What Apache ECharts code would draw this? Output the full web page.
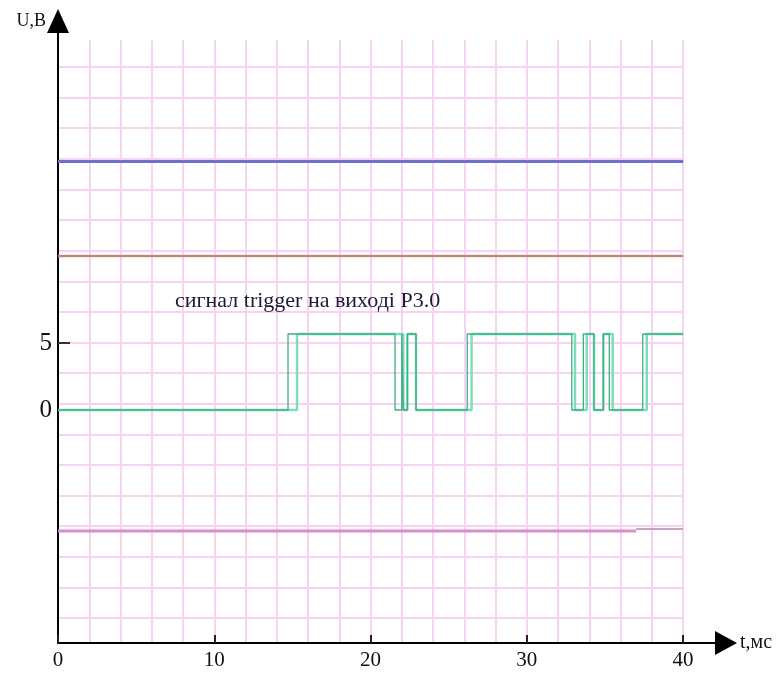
<!DOCTYPE html>
<html>
<head>
<meta charset="utf-8">
<script src="https://cdn.jsdelivr.net/npm/echarts@6/dist/echarts.min.js"></script>
<style>
html,body{margin:0;padding:0;background:#fff;}
#c{width:781px;height:675px;}
</style>
</head>
<body>
<div id="c"></div>
<script>
// ---- data ----
const xTickLabels = [0, 10, 20, 30, 40];
const yTickLabels = [0, 5];
const blueLevel = 18.55;
const orangeLevel = 11.49;
const pinkLevel = -9.03;
const pinkEndLevel = -8.88;
const pinkBreakT = 37.0;
const tStart = 0;
const tEnd = 40;
const signalLow = 0;
const signalHigh = 5.67;
// switching moments (ms) of the trigger signal, drawn twice (two overlaid traces)
const edgesA = [14.72, 21.57, 22.00, 22.10, 22.36, 22.91, 26.19, 32.88, 33.62, 34.30, 34.90, 35.28, 37.42];
const edgesB = [15.30, 22.10, 22.36, 22.91, 26.47, 33.09, 33.84, 34.30, 34.90, 35.50, 37.68];
const annotation = 'сигнал trigger на виході Р3.0';

function stepPath(edges) {
  const pts = [[tStart, signalLow]];
  let level = signalLow;
  edges.forEach(function (t) {
    pts.push([t, level]);
    level = (level === signalLow) ? signalHigh : signalLow;
    pts.push([t, level]);
  });
  pts.push([tEnd, level]);
  return pts;
}

const serif = 'Liberation Serif';
const gridColor = '#f6d3f3';

const chart = echarts.init(document.getElementById('c'), null, {renderer: 'canvas'});
chart.setOption({
  animation: false,
  backgroundColor: '#ffffff',
  title: {
    text: annotation,
    left: 170, top: 285,
    textStyle: {fontFamily: serif, fontSize: 22, fontWeight: 'normal', color: '#1b1b33'}
  },
  grid: [
    {left: 58, right: 55, top: 21, bottom: 32, containLabel: false},   // data + axes
    {left: 58, right: 98, top: 40, bottom: 32, containLabel: false},   // vertical grid lines
    {left: 58, right: 98, top: 67, bottom: 57, containLabel: false}    // horizontal grid lines
  ],
  xAxis: [
    {
      type: 'value', gridIndex: 0, min: 0, max: 42.75,
      axisLine: {show: true, onZero: false, symbol: ['none', 'triangle'], symbolSize: [24, 22],
        lineStyle: {color: '#000', width: 2}},
      axisTick: {show: true, inside: true, length: 8, customValues: xTickLabels, lineStyle: {color: '#222', width: 2}},
      axisLabel: {show: true, customValues: xTickLabels, fontFamily: serif, fontSize: 21, color: '#111', margin: 7},
      splitLine: {show: false},
      name: 't,мс', nameLocation: 'end', nameGap: 14,
      nameTextStyle: {fontFamily: serif, fontSize: 20, color: '#111', align: 'left', verticalAlign: 'middle', padding: [16, 0, 0, 0]}
    },
    {
      type: 'value', gridIndex: 1, min: 0, max: 40, interval: 2,
      axisLine: {show: false}, axisTick: {show: false}, axisLabel: {show: false},
      splitLine: {show: true, lineStyle: {color: gridColor, width: 2}}
    },
    {
      type: 'value', gridIndex: 2, min: 0, max: 1,
      axisLine: {show: false}, axisTick: {show: false}, axisLabel: {show: false}, splitLine: {show: false}
    }
  ],
  yAxis: [
    {
      type: 'value', gridIndex: 0, min: -17.39, max: 29.03,
      axisLine: {show: true, onZero: false, symbol: ['none', 'triangle'], symbolSize: [22, 24],
        lineStyle: {color: '#000', width: 2}},
      axisTick: {show: true, inside: true, length: 12, customValues: [5], lineStyle: {color: '#333', width: 2}},
      axisLabel: {show: true, customValues: yTickLabels, fontFamily: serif, fontSize: 25, color: '#111', margin: 6},
      splitLine: {show: false},
      name: 'U,В', nameLocation: 'end', nameGap: 0,
      nameTextStyle: {fontFamily: serif, fontSize: 18, color: '#111', align: 'right', verticalAlign: 'middle', padding: [0, 12, 0, 0]}
    },
    {
      type: 'value', gridIndex: 1, min: 0, max: 1,
      axisLine: {show: false}, axisTick: {show: false}, axisLabel: {show: false}, splitLine: {show: false}
    },
    {
      type: 'value', gridIndex: 2, min: 0, max: 18, interval: 1,
      axisLine: {show: false}, axisTick: {show: false}, axisLabel: {show: false},
      splitLine: {show: true, lineStyle: {color: gridColor, width: 2}}
    }
  ],
  series: [
    {type: 'line', xAxisIndex: 0, yAxisIndex: 0, symbol: 'none', silent: true,
      data: [[tStart, blueLevel], [tEnd, blueLevel]],
      lineStyle: {color: '#7070cc', width: 3}},
    {type: 'line', xAxisIndex: 0, yAxisIndex: 0, symbol: 'none', silent: true,
      data: [[tStart, orangeLevel], [tEnd, orangeLevel]],
      lineStyle: {color: '#b58a70', width: 2, shadowColor: 'rgba(240,170,210,0.8)', shadowBlur: 3}},
    {type: 'line', xAxisIndex: 0, yAxisIndex: 0, symbol: 'none', silent: true,
      data: [[tStart, pinkLevel], [pinkBreakT, pinkLevel]],
      lineStyle: {color: '#dc8cc8', width: 3}},
    {type: 'line', xAxisIndex: 0, yAxisIndex: 0, symbol: 'none', silent: true,
      data: [[pinkBreakT, pinkEndLevel], [tEnd, pinkEndLevel]],
      lineStyle: {color: '#c9a3c2', width: 2}},
    {type: 'line', xAxisIndex: 0, yAxisIndex: 0, symbol: 'none', silent: true,
      data: stepPath(edgesB),
      lineStyle: {color: '#79dfb4', width: 2.4}},
    {type: 'line', xAxisIndex: 0, yAxisIndex: 0, symbol: 'none', silent: true,
      data: stepPath(edgesA),
      lineStyle: {color: '#3fae83', width: 1.3}}
  ]
});
</script>
</body>
</html>
